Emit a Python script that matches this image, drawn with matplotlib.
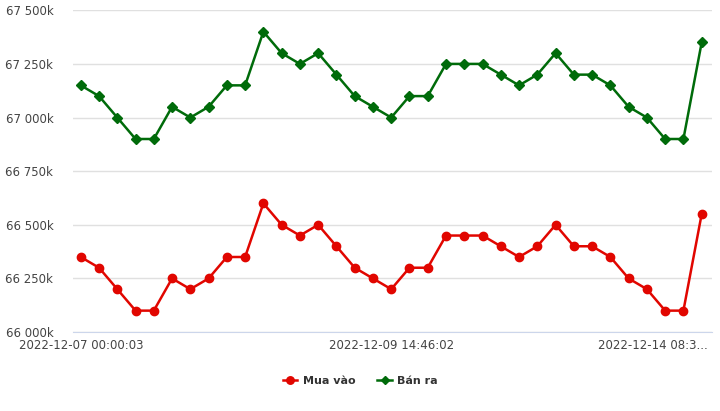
import matplotlib
matplotlib.use("Agg")
import matplotlib.pyplot as plt
import matplotlib.transforms as mtransforms
from matplotlib.ticker import FuncFormatter, FixedLocator

# values in thousands
ban_ra = [67150, 67100, 67000, 66900, 66900, 67050, 67000, 67050, 67150, 67150,
          67400, 67300, 67250, 67300, 67200, 67100, 67050, 67000, 67100, 67100,
          67250, 67250, 67250, 67200, 67150, 67200, 67300, 67200, 67200, 67150,
          67050, 67000, 66900, 66900, 67350]
mua_vao = [66350, 66300, 66200, 66100, 66100, 66250, 66200, 66250, 66350, 66350,
           66600, 66500, 66450, 66500, 66400, 66300, 66250, 66200, 66300, 66300,
           66450, 66450, 66450, 66400, 66350, 66400, 66500, 66400, 66400, 66350,
           66250, 66200, 66100, 66100, 66550]
tick_idx = [0, 17, 34]
tick_labels = ["2022-12-07 00:00:03", "2022-12-09 14:46:02", "2022-12-14 08:3..."]
y_ticks = [66000, 66250, 66500, 66750, 67000, 67250, 67500]

fig = plt.figure(figsize=(7.2, 4.11), dpi=100)
ax = fig.add_axes([0.101, 0.192, 0.8875, 0.783])

x = list(range(len(mua_vao)))
ax.plot(x, mua_vao, color="#e10600", lw=1.8, marker="o", ms=6, label="Mua vào", zorder=3)
ax.plot(x, ban_ra, color="#006b0a", lw=1.8, marker="D", ms=4.8, label="Bán ra", zorder=3)

ax.set_ylim(66000, 67500)
ax.set_xlim(-0.44, 34.55)
ax.yaxis.set_major_locator(FixedLocator(y_ticks))
ax.yaxis.set_major_formatter(FuncFormatter(lambda v, p: f"{int(v):,}k".replace(",", " ")))
ax.grid(axis="y", color="#e0e0e0", lw=1)
ax.set_axisbelow(True)
for s in ["top", "right", "left"]:
    ax.spines[s].set_visible(False)
ax.spines["bottom"].set_color("#ccd6eb")
ax.tick_params(axis="y", length=0, pad=14, labelsize=8.5, labelcolor="#444444")
ax.tick_params(axis="x", length=0, pad=5, labelsize=8.5, labelcolor="#444444")
ax.set_xticks(tick_idx)
ax.set_xticklabels(tick_labels)

# last label is clipped at the right edge
last = ax.get_xticklabels()[2]
last.set_horizontalalignment("right")
last.set_transform(last.get_transform() + mtransforms.ScaledTranslation(0.06, 0, fig.dpi_scale_trans))

leg = ax.legend(loc="upper center", bbox_to_anchor=(0.45, -0.106), ncol=2, frameon=False,
                prop={"weight": "bold", "size": 8}, handlelength=1.3, columnspacing=2.0,
                handletextpad=0.5, markerscale=0.9)
for t in leg.get_texts():
    t.set_color("#333333")

fig.savefig("out.png", dpi=100)
